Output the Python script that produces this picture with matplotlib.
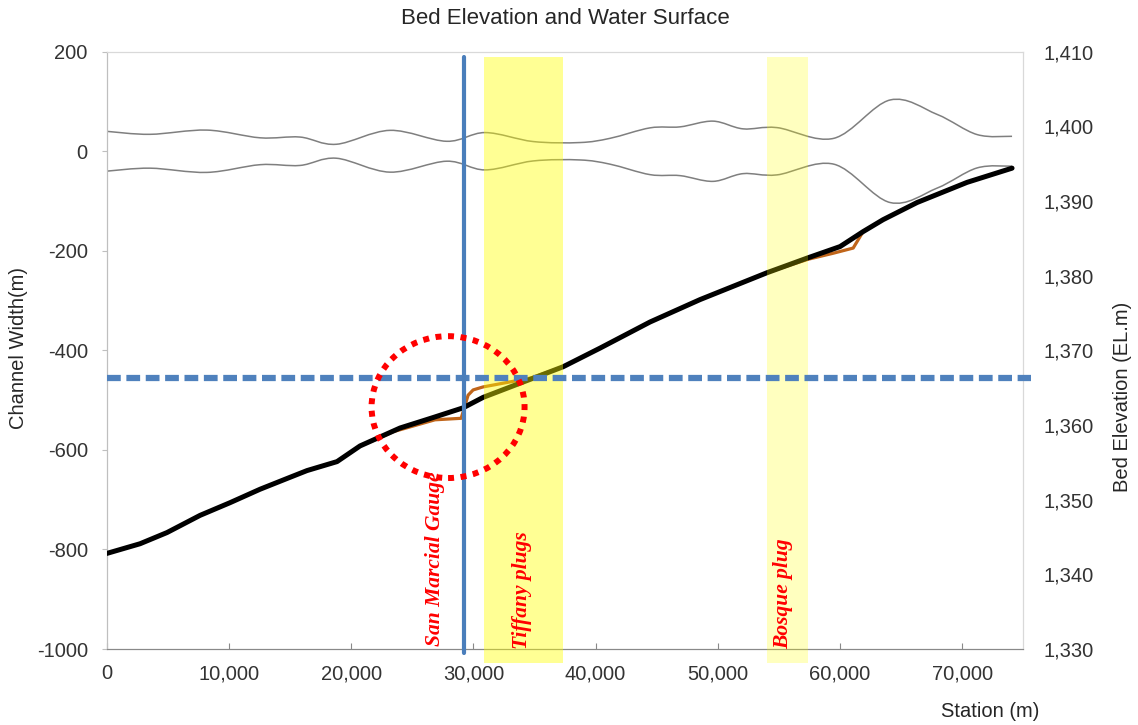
import matplotlib
matplotlib.use("Agg")
import matplotlib.pyplot as plt
from matplotlib.patches import Ellipse, Rectangle, PathPatch
from matplotlib.path import Path
from matplotlib.ticker import StrMethodFormatter

plt.rcParams["font.family"] = ["Liberation Sans", "DejaVu Sans"]
plt.rcParams["axes.unicode_minus"] = False

# channel half-width (plotted as +/- banks), left axis
width_station = [0, 3540, 8200, 12550, 15820, 18780, 23180, 27820, 30960,
                 34890, 38730, 41190, 44460, 46920, 49610, 52060, 54840,
                 59500, 64100, 67950, 71220, 74080]
half_width = [40, 34, 42.5, 27, 28.5, 14, 42, 20, 37.5,
              19.5, 17.5, 26, 47, 49, 60.5, 45, 47.5,
              26, 103, 74, 33.5, 30]

# bed elevation, right axis
bed_station = [0, 2725, 4934, 7635, 10090, 12545, 15000, 16390, 18845, 20727,
               22364, 24000, 26702, 29157, 30794, 33821, 37340, 40367, 44459,
               48550, 54033, 57388, 60007, 61889, 63525, 66308, 70399, 74081]
bed_elev = [1342.8, 1344.1, 1345.6, 1347.9, 1349.6, 1351.4, 1353.0, 1353.9, 1355.1, 1357.2,
            1358.4, 1359.6, 1361.0, 1362.3, 1363.7, 1365.6, 1367.8, 1370.3, 1373.8,
            1376.8, 1380.4, 1382.4, 1383.9, 1385.9, 1387.5, 1389.8, 1392.5, 1394.4]

# second (orange) bed profile
bed2_station = [0, 2725, 4934, 7635, 10090, 12545, 15000, 16390, 18845, 20727,
                22364, 23430, 26860, 29000, 29570, 29980, 30790, 33080, 34700,
                37340, 40367, 44459, 48550, 54033, 57388, 59430, 61080, 61889,
                63525, 66308, 70399, 74081]
bed2_elev = [1342.8, 1344.1, 1345.6, 1347.9, 1349.6, 1351.4, 1353.0, 1353.9, 1355.1, 1357.2,
             1358.3, 1359.1, 1360.7, 1360.9, 1364.0, 1364.7, 1365.1, 1365.8, 1366.3,
             1367.8, 1370.3, 1373.8, 1376.8, 1380.4, 1382.2, 1383.0, 1383.7, 1385.9,
             1387.5, 1389.8, 1392.5, 1394.4]

gauge_station = 29200
water_level = 1366.3
plug_names = ["Tiffany plugs", "Bosque plug"]
plug_start = [30900, 54060]
plug_end = [37300, 57410]
plug_alpha = [0.42, 0.25]
plug_label_x = [33960, 55370]


def smooth_path(xs, ys):
    # Excel-like smoothed line: Catmull-Rom segments as cubic Beziers
    pts = list(zip(xs, ys))
    verts = [pts[0]]
    codes = [Path.MOVETO]
    for i in range(len(pts) - 1):
        p0 = pts[max(i - 1, 0)]
        p1, p2 = pts[i], pts[i + 1]
        p3 = pts[min(i + 2, len(pts) - 1)]
        c1 = (p1[0] + (p2[0] - p0[0]) / 6, p1[1] + (p2[1] - p0[1]) / 6)
        c2 = (p2[0] - (p3[0] - p1[0]) / 6, p2[1] - (p3[1] - p1[1]) / 6)
        verts += [c1, c2, p2]
        codes += [Path.CURVE4] * 3
    return Path(verts, codes)


fig = plt.figure(figsize=(11.38, 7.25), dpi=100)
ax = fig.add_axes([0.0938, 0.1048, 0.8054, 0.8239])
ax2 = ax.twinx()

up = [w for w in half_width]
lo = [-w for w in half_width]
for bank in (up, lo):
    ax.add_patch(PathPatch(smooth_path(width_station, bank), facecolor="none",
                           edgecolor="#7f7f7f", lw=1.1))
ax.set_xlim(0, 75000)
ax.set_ylim(-1000, 200)
ax.set_yticks(range(-1000, 201, 200))
ax.set_xticks(range(0, 70001, 10000))
ax.xaxis.set_major_formatter(StrMethodFormatter("{x:,.0f}"))

ax2.plot(bed2_station, bed2_elev, color="#c0651a", lw=2.3, zorder=2,
         solid_joinstyle="round")
ax2.plot(bed_station, bed_elev, color="black", lw=3.6, zorder=3,
         solid_joinstyle="round", solid_capstyle="round")
ax2.set_ylim(1330, 1410)
ax2.set_yticks(range(1330, 1411, 10))
ax2.yaxis.set_major_formatter(StrMethodFormatter("{x:,.0f}"))

# plug zones
for s0, s1, a in zip(plug_start, plug_end, plug_alpha):
    ax2.add_patch(Rectangle((s0, 1328.1), s1 - s0, 1409.3 - 1328.1,
                            facecolor=(1, 1, 0), alpha=a, lw=0,
                            clip_on=False, zorder=4))

ax2.plot([0, 75600], [water_level, water_level], color="#4f81bd", lw=4.5,
         ls=(0, (2.2, 0.9)), clip_on=False, zorder=5)
ax2.plot([gauge_station, gauge_station], [1329.5, 1409.3], color="#4a7ebb",
         lw=3, clip_on=False, zorder=5, solid_capstyle="round")

ax2.add_patch(Ellipse((27930, 1362.4), 12520, 19.0, fill=False,
                      edgecolor="red", lw=4.3, ls=(0, (1, 1.1)), zorder=6))

lab = dict(color="red", fontsize=15.5, fontweight="bold", fontstyle="italic",
           family=["Liberation Serif", "DejaVu Serif"], rotation=90,
           ha="center", va="bottom", zorder=7)
ax2.text(26860, 1330.4, "San Marcial Gauge", **lab)
for name, xs in zip(plug_names, plug_label_x):
    ax2.text(xs, 1330.0, name, **lab)

for a in (ax, ax2):
    a.spines["top"].set_color("#d9d9d9")
    a.spines["right"].set_color("#d9d9d9")
    a.spines["left"].set_color("#bfbfbf")
    a.spines["bottom"].set_color("#898989")

ax.tick_params(axis="x", direction="in", length=4.5, color="#898989",
               labelsize=14.5, labelcolor="#333333", pad=11)
ax.tick_params(axis="y", direction="out", length=3.6, color="#bfbfbf",
               labelsize=14.5, labelcolor="#333333", pad=10)
ax2.tick_params(axis="y", length=0, labelsize=14.5, labelcolor="#333333", pad=14.4)

fig.text(0.497, 0.975, "Bed Elevation and Water Surface", ha="center", va="center",
         fontsize=16, color="#262626")
fig.text(0.016, 0.52, "Channel Width(m)", rotation=90, ha="center", va="center",
         fontsize=14.5, color="#262626")
fig.text(0.986, 0.452, "Bed Elevation (EL.m)", rotation=90, ha="center", va="center",
         fontsize=14.5, color="#262626")
fig.text(0.913, 0.018, "Station (m)", ha="right", va="center",
         fontsize=14.5, color="#262626")

fig.savefig("out.png", dpi=100, facecolor="white")
